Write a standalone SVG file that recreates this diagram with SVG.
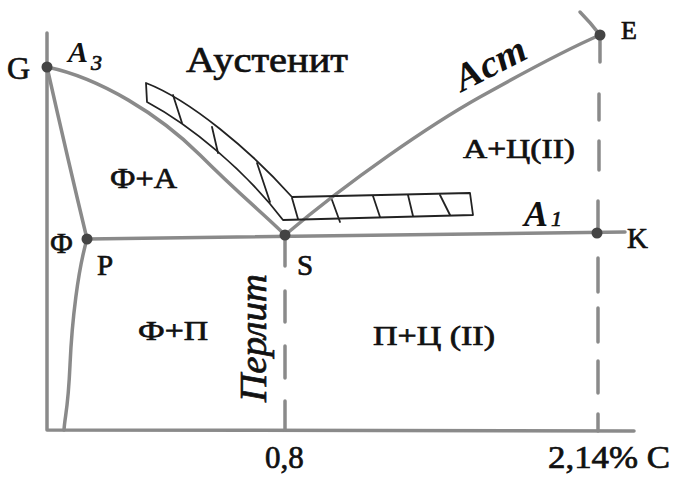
<svg xmlns="http://www.w3.org/2000/svg" width="676" height="477" viewBox="0 0 676 477">
<style>
.ln{fill:none;stroke:#8a8a8a;stroke-width:3.5;stroke-linecap:round;stroke-linejoin:round}
.dash{fill:none;stroke:#8a8a8a;stroke-width:3.5;stroke-linecap:round}
.hat{fill:none;stroke:#222;stroke-width:1.8;stroke-linejoin:round;stroke-linecap:round}
.dot{fill:#444}
.t{font-family:"Liberation Serif","Times New Roman",serif;fill:#111;stroke:#111;stroke-width:0.7}
.bi{font-family:"Liberation Serif","Times New Roman",serif;font-style:italic;font-weight:bold;fill:#111}
.it{font-family:"Liberation Serif","Times New Roman",serif;font-style:italic;fill:#111;stroke:#111;stroke-width:0.7}
</style>
<rect width="676" height="477" fill="#fff"/>
<g id="connectors">
<path class="ln" d="M47,33 L47,430 L634,431"/>
<path class="ln" d="M47,67 C100,78 160,115 200,155 S265,215 285,235"/>
<path class="ln" d="M47,67 Q68,160 87,239"/>
<path class="ln" d="M87,239 C78,270 72,320 70,365 S65,415 64,430"/>
<path class="ln" d="M87,239 L625,232"/>
<path class="ln" d="M285,235 C350,180 430,125 480,97 S570,48 600,35"/>
<path class="ln" d="M580,12 Q590,22 600,35"/>
<path class="dash" d="M285,237 V266 M285,291 V322 M285,346 V378 M285,401 V430"/>
<path class="dash" d="M600,35 V62 M599,94 V120 M599,141 V170 M598,201 V233 M598,258 V292 M598,308 V342 M598,361 V393 M598,414 V431"/>
</g>
<g id="hatched-band">
<path class="hat" d="M146,83 C190,100 250,150 292,197 L470,193 L473,215 L283,220 C245,170 190,125 147,102 Z"/>
<path class="hat" d="M173,95 L182,123 M212,127 L218,153 M257,163 L270,202 M292,198 L298,219 M332,200 L340,222 M373,196 L380,217 M408,195 L413,216 M440,195 L450,215"/>
</g>
<g id="node-G"><circle class="dot" cx="47" cy="67" r="5.5"/><text class="t" x="7" y="79" font-size="32">G</text></g>
<g id="node-P"><circle class="dot" cx="87" cy="239" r="5.5"/><text class="t" x="97" y="275" font-size="29">P</text></g>
<g id="node-S"><circle class="dot" cx="285" cy="235" r="5.5"/><text class="t" x="297" y="275" font-size="29">S</text></g>
<g id="node-K"><circle class="dot" cx="597" cy="233" r="5.5"/><text class="t" x="627" y="248" font-size="29">K</text></g>
<g id="node-E"><circle class="dot" cx="600" cy="35" r="5.5"/><text class="t" x="621" y="39" font-size="26">E</text></g>
<g id="labels">
<text class="bi" x="68" y="62" font-size="30">A</text><text class="it" x="91" y="70" font-size="22">3</text>
<text class="t" x="186" y="72" font-size="36" textLength="162" lengthAdjust="spacingAndGlyphs">Аустенит</text>
<text class="bi" transform="translate(462,92) rotate(-27)" font-size="38" textLength="76" lengthAdjust="spacingAndGlyphs">Acm</text>
<text class="t" x="110" y="188" font-size="29" textLength="67" lengthAdjust="spacingAndGlyphs">Ф+А</text>
<text class="t" x="463" y="158" font-size="28" textLength="112" lengthAdjust="spacingAndGlyphs">А+Ц(II)</text>
<text class="bi" x="524" y="226" font-size="36">A</text><text class="it" x="551" y="226" font-size="22">1</text>
<text class="t" x="50" y="253" font-size="29">Ф</text>
<text class="it" transform="translate(266,402) rotate(-90)" font-size="38" textLength="128" lengthAdjust="spacingAndGlyphs">Перлит</text>
<text class="t" x="138" y="340" font-size="28" textLength="70" lengthAdjust="spacingAndGlyphs">Ф+П</text>
<text class="t" x="373" y="345" font-size="28" textLength="122" lengthAdjust="spacingAndGlyphs">П+Ц (II)</text>
<text class="t" x="265" y="468" font-size="31">0,8</text>
<text class="t" x="548" y="468" font-size="31" textLength="122" lengthAdjust="spacingAndGlyphs">2,14% C</text>
</g>
</svg>
